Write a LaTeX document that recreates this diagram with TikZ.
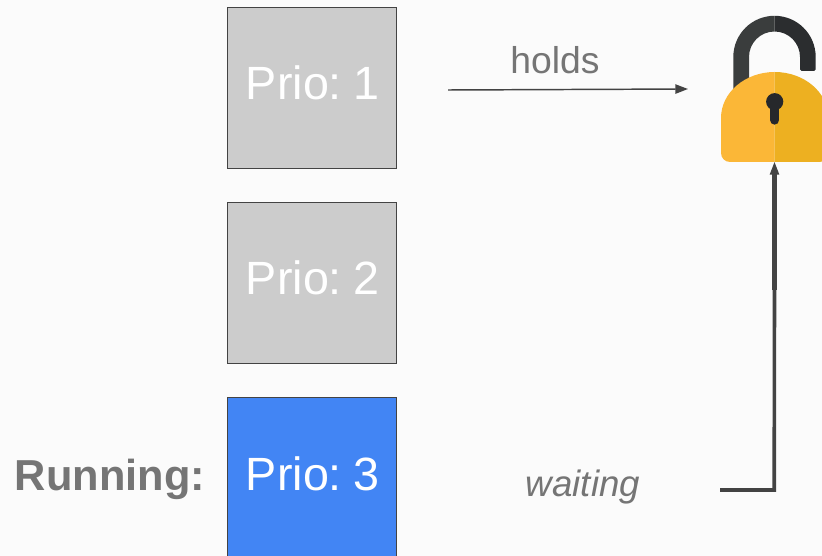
\documentclass[tikz,border=0pt]{standalone}
\usepackage{fontspec}
\setmainfont{Liberation Sans}
\newfontfamily\priofont[WordSpace=0.55]{Liberation Sans}
\usetikzlibrary{arrows.meta}
\definecolor{bg}{HTML}{FBFBFB}
\definecolor{edge}{HTML}{434343}
\definecolor{boxgray}{HTML}{CCCCCC}
\definecolor{boxblue}{HTML}{4285F4}
\definecolor{txtgray}{HTML}{757575}
\definecolor{shackL}{HTML}{3A3D3D}
\definecolor{shackR}{HTML}{2B2D2F}
\definecolor{bodyL}{HTML}{FBB737}
\definecolor{bodyR}{HTML}{EDB021}
\definecolor{keyc}{HTML}{26282B}
\tikzset{
  prio/.style={draw=edge,line width=1.05pt,minimum width=127pt,minimum height=121pt,inner sep=0pt,text=white,font=\priofont\fontsize{35}{40}\selectfont,outer sep=0pt,text height=29pt,text depth=11pt},
  label gray/.style={text=txtgray,font=\fontsize{28}{32}\selectfont,inner sep=0pt},
  conn/.style={draw=edge,line width=1.1pt,-{Triangle[length=9.5pt,width=7pt]}},
  elbow/.style={draw=edge,line width=2.7pt}
}
\begin{document}
\begin{tikzpicture}[x=0.75pt,y=-0.75pt]
\useasboundingbox (0,0) rectangle (822,556);
\clip (0,0) rectangle (822,556);
\fill[bg] (0,0) rectangle (822,556);
% boxes
\node[prio,fill=boxgray] (p1) at (312,88) {\hspace{1pt}Prio: 1};
\node[prio,fill=boxgray] (p2) at (312,283) {\hspace{1pt}Prio: 2};
\node[prio,fill=boxblue] (p3) at (312,478) {\hspace{1pt}Prio: 3};
\node[text=txtgray,font=\bfseries\fontsize{32.5}{40}\selectfont,inner sep=0pt,anchor=base] (run) at (110,490) {Running:};
\node[label gray,anchor=base] (holds) at (555,74) {holds};
\node[label gray,anchor=base,font=\itshape\fontsize{27.5}{32}\selectfont] (waiting) at (583,496) {waiting};
% lock: shackle
\fill[shackL] (733.3,95) -- (733.3,57) arc[start angle=-180,end angle=-90,radius=41.2] -- (774.5,31.5) arc[start angle=-90,end angle=-180,radius=25.5] -- (749,95) -- cycle;
\fill[shackR] (774.5,15.8) arc[start angle=-90,end angle=0,radius=41.2] -- (815.7,69.5) arc[start angle=0,end angle=90,radius=1.5] -- (801.5,71) arc[start angle=90,end angle=180,radius=1.5] -- (800,57) arc[start angle=0,end angle=-90,radius=25.5] -- cycle;
% lock: body
\fill[bodyL] (774.7,72) arc[start angle=-90,end angle=-180,x radius=53.7,y radius=46] -- (721,153) arc[start angle=180,end angle=90,radius=9] -- (774.7,162) -- cycle;
\fill[bodyR] (774.7,72) arc[start angle=-90,end angle=0,x radius=53.7,y radius=46] -- (828.4,153) arc[start angle=0,end angle=90,radius=9] -- (774.7,162) -- cycle;
\fill[keyc] (774.7,101.7) circle[radius=8.6];
\draw[keyc,line width=7pt,line cap=round] (774.7,104) -- (774.7,120);
% connectors
\coordinate (lockb) at (774.5,162);
\coordinate (lockl) at (688,89);
\coordinate (hs) at (448,90);
\coordinate (ws) at (720,490);
\coordinate (wc) at (774.2,490);
\coordinate (wm) at (774.5,290);
\draw[conn] (hs) -- (lockl);
\draw[elbow] (ws) -- (wc) -- (wm);
\draw[draw=edge,line width=3.2pt] (wm) -- (774.5,172);
\draw[conn] (wm) -- (lockb);
\end{tikzpicture}
\end{document}
